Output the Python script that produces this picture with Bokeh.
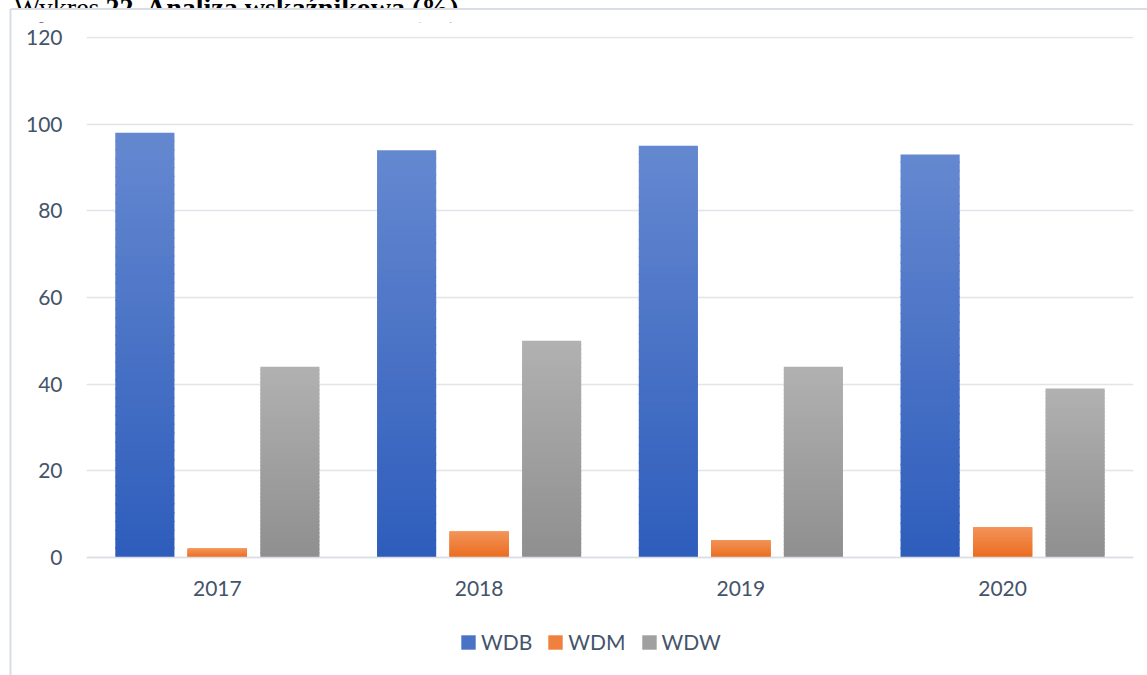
from bokeh.plotting import figure
from bokeh.models import (FactorRange, Range1d, ColumnDataSource, Legend, LegendItem,
                          FixedTicker)
from bokeh.transform import dodge
from bokeh.core.properties import value
from bokeh.embed import file_html
from bokeh.resources import INLINE

# ---- data ----
years = ["2017", "2018", "2019", "2020"]
series = ["WDB", "WDM", "WDW"]
wdb = [98, 94, 95, 93]
wdm = [2, 6, 4, 7]
wdw = [44, 50, 44, 39]
y_ticks = [0, 20, 40, 60, 80, 100, 120]
title_normal = "Wykres"
title_bold = "22. Analiza wskaźnikowa (%)"

# ---- styles ----
grad = {  # (bottom colour, top colour)
    "WDB": ("#2E5DBC", "#6588D0"),
    "WDM": ("#EB6D1E", "#F3935A"),
    "WDW": ("#8F8F8F", "#B1B1B1"),
}
offsets = [-0.277, 0.0, 0.277]
bar_w = 0.226
N = 48
TXT = "#44546A"
FONT = "Lato"

def h2r(h):
    return tuple(int(h[i:i + 2], 16) for i in (1, 3, 5))

def lerp(c1, c2, t):
    a, b = h2r(c1), h2r(c2)
    return "#%02x%02x%02x" % tuple(round(a[i] + (b[i] - a[i]) * t) for i in range(3))

W, H = 1147, 675
FL, FR, FT = 86, 14, 36          # frame borders (frame runs to the bottom edge)
ZERO_Y = 557                     # page y of value 0
PX_PER_UNIT = 520 / 120.0
Y_END = 120 + (ZERO_Y - 520 - FT) / PX_PER_UNIT
Y_START = -(H - ZERO_Y) / PX_PER_UNIT
frame_w = W - FL - FR
cat_px = frame_w / len(years)

def xd(px):   # page px -> synthetic categorical coordinate
    return (px - FL) / cat_px

def yd(py):   # page px -> data y
    return (ZERO_Y - py) / PX_PER_UNIT

p = figure(x_range=FactorRange(*years), y_range=Range1d(Y_START, Y_END),
           width=W, height=H, output_backend="svg", toolbar_location=None,
           min_border_left=FL, min_border_right=FR, min_border_top=FT,
           min_border_bottom=0)
p.x_range.range_padding = 0
p.outline_line_color = None
p.background_fill_color = "white"
p.border_fill_color = "white"

# bars with vertical gradient built from stacked, slightly overlapping slices
vals = {"WDB": wdb, "WDM": wdm, "WDW": wdw}
renderers = {}
for s, off in zip(series, offsets):
    xs, bots, tops, cols = [], [], [], []
    cb, ct = grad[s]
    for y, v in zip(years, vals[s]):
        for k in range(N):
            xs.append(y)
            bots.append(v * k / N)
            tops.append(min(v, v * (k + 1) / N + 0.3))
            cols.append(lerp(cb, ct, (k + 0.5) / N))
    src = ColumnDataSource(dict(year=xs, bottom=bots, top=tops, color=cols))
    r = p.vbar(x=dodge("year", off, range=p.x_range), width=bar_w, bottom="bottom",
               top="top", source=src, fill_color="color", line_color=None)
    renderers[s] = r

# title (mostly hidden above the chart box, as in the reference) + chart box border
p.text(x=[xd(99)], y=[yd(7)], text=[title_normal], text_align="right",
       text_baseline="alphabetic", text_font=value("Liberation Serif"),
       text_font_size="28px", text_color="black", level="overlay")
p.text(x=[xd(105)], y=[yd(7)], text=[title_bold], text_align="left",
       text_baseline="alphabetic", text_font=value("Liberation Serif"),
       text_font_size="28px", text_font_style="bold", text_color="black", level="overlay")
p.quad(left=[xd(10)], right=[xd(1160)], top=[yd(9)], bottom=[yd(22)],
       fill_color="white", line_color=None, level="overlay")
p.segment(x0=[xd(10), xd(10)], y0=[yd(8.5), yd(8.5)], x1=[xd(10), xd(1160)],
          y1=[yd(700), yd(8.5)], line_color="#D9DDE4", line_width=2, level="overlay")

# axes / grid
p.ygrid.grid_line_color = "#E1E4E9"
p.ygrid.grid_line_width = 1.5
p.xgrid.grid_line_color = None
p.yaxis.ticker = FixedTicker(ticks=y_ticks)
p.yaxis.axis_line_color = None
p.yaxis.major_tick_line_color = None
p.yaxis.minor_tick_line_color = None
p.yaxis.major_label_standoff = 18
p.yaxis.major_label_text_font = FONT
p.yaxis.major_label_text_font_size = "21px"
p.yaxis.major_label_text_color = TXT

p.xaxis.fixed_location = 0
p.xaxis.axis_line_color = "#DADDE3"
p.xaxis.axis_line_width = 1.5
p.xaxis.major_tick_line_color = None
p.xaxis.minor_tick_line_color = None
p.xaxis.major_label_standoff = 17
p.xaxis.major_label_text_font = FONT
p.xaxis.major_label_text_font_size = "21px"
p.xaxis.major_label_text_color = TXT

legend = Legend(items=[LegendItem(label=s, renderers=[renderers[s]], index=N // 2)
                       for s in series],
                orientation="horizontal", location=(459 - FL, H - 654),
                glyph_width=18, glyph_height=18, label_standoff=4, spacing=14,
                padding=0, margin=0, border_line_color=None, background_fill_alpha=0,
                label_text_font=FONT, label_text_font_size="21px",
                label_text_color=TXT)
p.add_layout(legend)

open("out.html", "w").write(file_html(p, INLINE))
